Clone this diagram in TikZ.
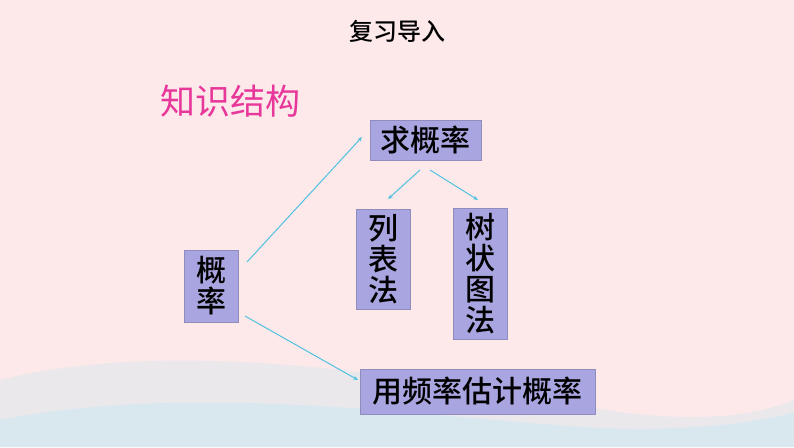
\documentclass[tikz,border=0pt]{standalone}
\usepackage{fontspec}
\newfontfamily\cjk{Noto Sans CJK SC}
\newfontfamily\cjkb{Noto Sans CJK SC Medium}
\usetikzlibrary{arrows.meta}
\definecolor{bg}{HTML}{FDE8EA}
\definecolor{boxc}{HTML}{A9A5E0}
\definecolor{arr}{HTML}{4FC3E0}
\definecolor{mag}{HTML}{E8379A}
\definecolor{wave}{HTML}{D8E8EE}
\tikzset{x=1pt,y=-1pt,
 bx/.style={fill=boxc,draw=boxc!85!black,line width=0.4pt,inner sep=0pt,font=\cjkb\fontsize{30}{31}\selectfont,align=center},
 ar/.style={arr,line width=1pt,-{Stealth[length=5pt,width=4pt]}}}
\begin{document}
\begin{tikzpicture}
\fill[bg] (0,0) rectangle (794,447);
\fill[wave!50!bg] (0,380) .. controls (200,330) and (480,390) .. (620,412) .. controls (720,425) and (770,410) .. (794,400) -- (794,447) -- (0,447) -- cycle;
\fill[wave] (0,420) .. controls (200,380) and (450,420) .. (600,428) .. controls (700,432) and (770,420) .. (794,412) -- (794,447) -- (0,447) -- cycle;
\useasboundingbox (0,0) rectangle (794,447);
\node[font=\cjkb\fontsize{24}{26}\selectfont] (t) at (397,31) {复习导入};
\node[font=\cjk\fontsize{35}{38}\selectfont,text=mag] (k) at (230,101) {知识结构};
\node[bx,minimum width=111,minimum height=40] (q) at (425.5,140) {求概率};
\node[bx,minimum width=54,minimum height=100] (l) at (383,259) {列\\表\\法};
\node[bx,minimum width=54,minimum height=131] (s) at (480,273.5) {树\\状\\图\\法};
\node[bx,minimum width=54,minimum height=72] (g) at (211,286) {概\\率};
\node[bx,minimum width=235,minimum height=45] (y) at (477.5,391.5) {用频率估计概率};
\coordinate (g1) at (247,262); \coordinate (g2) at (245,316);
\coordinate (q1) at (362,137); \coordinate (y1) at (358,380);
\coordinate (qa) at (420,170); \coordinate (qb) at (430,170);
\coordinate (la) at (388,199); \coordinate (sa) at (478,200);
\draw[ar] (g1) -- (q1);
\draw[ar] (g2) -- (y1);
\draw[ar] (qa) -- (la);
\draw[ar] (qb) -- (sa);
\end{tikzpicture}
\end{document}
